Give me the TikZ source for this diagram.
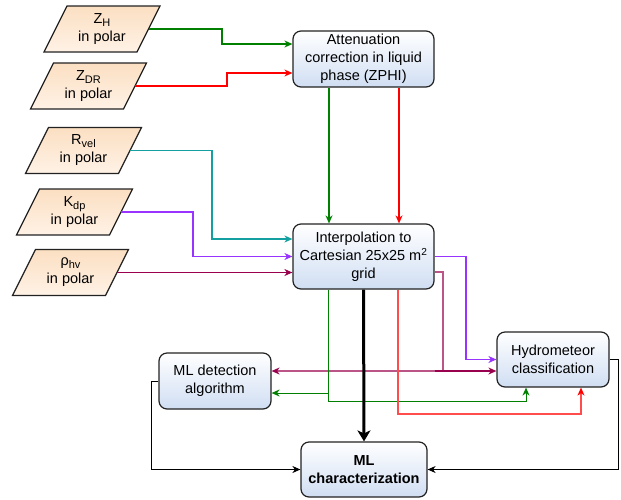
\documentclass[tikz,border=0pt]{standalone}
\usepackage{fontspec}
\setmainfont{Liberation Sans}
\usetikzlibrary{arrows.meta,calc}
\definecolor{cgreen}{HTML}{007F00}
\definecolor{cred}{HTML}{FF0000}
\definecolor{credL}{HTML}{FF4D4D}
\definecolor{cteal}{HTML}{14A0A0}
\definecolor{cpurple}{HTML}{9933FF}
\definecolor{cmaroon}{HTML}{99004D}
\definecolor{cmaroonL}{HTML}{BB5588}
\definecolor{boxline}{HTML}{222222}
\definecolor{boxblue}{HTML}{D0DEF3}
\definecolor{peachtop}{HTML}{FBDFC2}
\definecolor{peachbot}{HTML}{FFF2E6}
\newcommand\mysub[1]{\raisebox{-3pt}{\fontsize{11}{11}\selectfont #1}}
\newcommand\mypara[4]{%
  \draw[paraline] ({#2-35},{#3-23}) -- ({#2+58},{#3-23}) -- ({#2+35},{#3+23}) -- ({#2-58},{#3+23}) -- cycle;
  \node[paratext] (#1) at (#2,#3) {#4};}
\begin{document}
\begin{tikzpicture}[x=1pt,y=-1pt,
  box/.style={draw=boxline,line width=1.2pt,rounded corners=8pt,top color=white,bottom color=boxblue,align=center,font=\fontsize{14.5}{18}\selectfont,inner sep=2pt},
  paraline/.style={draw=boxline,line width=1.2pt,top color=peachtop,bottom color=peachbot},
  paratext/.style={minimum width=93pt,inner sep=0pt,outer sep=0pt,align=center,font=\fontsize{14.5}{18}\selectfont},
  conn/.style={line width=1.2pt,-{Stealth[length=8pt,width=7pt,inset=2.5pt]}},
  thin/.style={line width=1pt,-{Stealth[length=8pt,width=7pt,inset=2.5pt]}},
]
\useasboundingbox (0,0) rectangle (621,499);
\mypara{zh}{102}{29}{Z\mysub{H}\\in polar}
\mypara{zdr}{88.5}{86}{Z\mysub{DR}\\in polar}
\mypara{rvel}{83.5}{150.5}{R\mysub{vel}\\in polar}
\mypara{kdp}{74.5}{212}{K\mysub{dp}\\in polar}
\mypara{rho}{70.5}{272.5}{ρ\mysub{hv}\\in polar}

\node[box,minimum width=141pt,minimum height=56pt] (att) at (363.5,59) {Attenuation\\correction in liquid\\phase (ZPHI)};
\node[box,minimum width=141pt,minimum height=65pt] (interp) at (363.5,256.5) {Interpolation to\\Cartesian 25x25 m\textsuperscript{2}\\grid};
\node[box,minimum width=112pt,minimum height=55pt] (hydro) at (553,359.5) {Hydrometeor\\classification};
\node[box,minimum width=112pt,minimum height=56pt] (mld) at (215,381) {ML detection\\algorithm};
\node[box,minimum width=126pt,minimum height=55pt,font=\fontsize{14.5}{18}\selectfont\bfseries] (mlc) at (364,469.5) {ML\\characterization};

\coordinate (mj) at (443,371);
\coordinate (mk) at (435,371);
\coordinate (gs) at ($(interp.south)+(-35.5,0)$);

\draw[conn,cgreen] (zh.east) -| (222,44) -- ($(att.west)+(0,-15)$);
\draw[conn,cred] (zdr.east) -| (227,73) -- ($(att.west)+(0,14)$);
\draw[conn,cgreen,line width=1.5pt] ($(att.south)+(-34.5,0)$) -- ($(interp.north)+(-34.5,0)$);
\draw[conn,cred,line width=1.5pt] ($(att.south)+(35.5,0)$) -- ($(interp.north)+(35.5,0)$);
\draw[conn,cteal] (rvel.east) -| (212,239) -- ($(interp.west)+(0,-17.5)$);
\draw[conn,cpurple] (kdp.east) -| (193,256.5) -- (interp.west);
\draw[conn,cmaroon,line width=1.5pt] (rho.east) -- (rho.east -| interp.west);
\draw[conn,cpurple] (interp.east) -| (466,359.5) -- (hydro.west);
\draw[conn,cmaroonL,-{Stealth[length=8pt,width=7pt,inset=2.5pt,color=cmaroon]}] ($(interp.east)+(0,15.5)$) -| (mj) -- (mj -| mld.east);
\draw[conn,cmaroon,line width=1.5pt] (mk) -- (mk -| hydro.west);
\draw[thin,cgreen] (gs) |- ($(mld.east)+(0,12)$);
\draw[thin,cgreen] (gs) |- (526,401) -- ($(hydro.south)+(-27,0)$);
\draw[conn,credL,-{Stealth[length=8pt,width=7pt,inset=2.5pt,color=cred]}] ($(interp.south)+(34.5,0)$) |- (581,414) -- ($(hydro.south)+(28,0)$);
\draw[line width=3pt,-{Stealth[length=11pt,width=13pt,inset=3pt]}] (interp.south) -- (mlc.north);
\draw[thin,black] (mld.west) -- (151,381) |- (mlc.west);
\draw[thin,black] (hydro.east) -- (618,359.5) |- (mlc.east);
\end{tikzpicture}
\end{document}
